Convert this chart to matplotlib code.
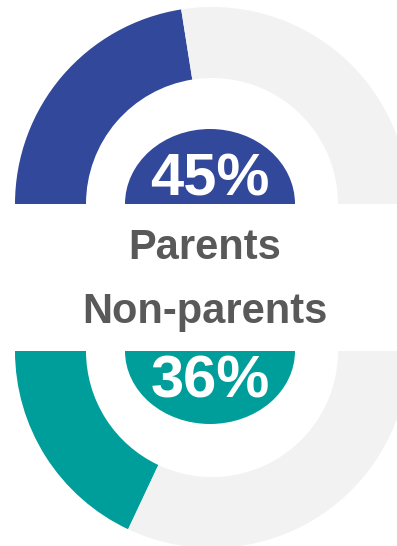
import matplotlib
matplotlib.use("Agg")
import matplotlib.pyplot as plt
from matplotlib.patches import Wedge
from matplotlib.transforms import Affine2D

# Data
groups = ["Parents", "Non-parents"]
values = [45, 36]
labels = ["45%", "36%"]
colors = ["#31489B", "#009E9B"]
rest_color = "#F2F2F2"

W, H = 397, 546
fig = plt.figure(figsize=(W / 100, H / 100), dpi=100)
ax = fig.add_axes([0, 0, 1, 1])

cx = 212
centers_y = [H - 204, H - 351]
r_out, r_in = 197, 126

# top half donut (clockwise from the left), bottom half donut (counter-clockwise from the left)
for i, (v, col) in enumerate(zip(values, colors)):
    counter = (i == 1)
    wedges, _ = ax.pie([v, 100 - v, 100], colors=[col, rest_color, "none"],
                       startangle=180, counterclock=counter,
                       center=(cx, centers_y[i]), radius=r_out,
                       wedgeprops=dict(width=r_out - r_in, linewidth=0, antialiased=True),
                       frame=True)
    wedges[2].set_visible(False)

# inner half-ellipses with percentage labels
inner_cx = 210
inner_w = 85
inner_h = [75, 73]
thetas = [(0, 180), (180, 360)]
for i in range(2):
    tr = Affine2D().scale(inner_w, inner_h[i]).translate(inner_cx, centers_y[i]) + ax.transData
    ax.add_patch(Wedge((0, 0), 1, thetas[i][0], thetas[i][1], transform=tr,
                       facecolor=colors[i], edgecolor="none"))

font = ["Liberation Sans", "DejaVu Sans"]
ax.text(inner_cx, H - 195.5, labels[0], ha="center", va="baseline", color="white",
        fontsize=43, fontweight="bold", family=font)
ax.text(inner_cx, H - 398, labels[1], ha="center", va="baseline", color="white",
        fontsize=43, fontweight="bold", family=font)

ax.text(205, H - 259, groups[0], ha="center", va="baseline", color="#595959",
        fontsize=30, fontweight="bold", family=font)
ax.text(205, H - 322.5, groups[1], ha="center", va="baseline", color="#595959",
        fontsize=30, fontweight="bold", family=font)

ax.set_xlim(0, W)
ax.set_ylim(0, H)
ax.set_aspect("auto")
ax.axis("off")

fig.savefig("out.png", dpi=100)
